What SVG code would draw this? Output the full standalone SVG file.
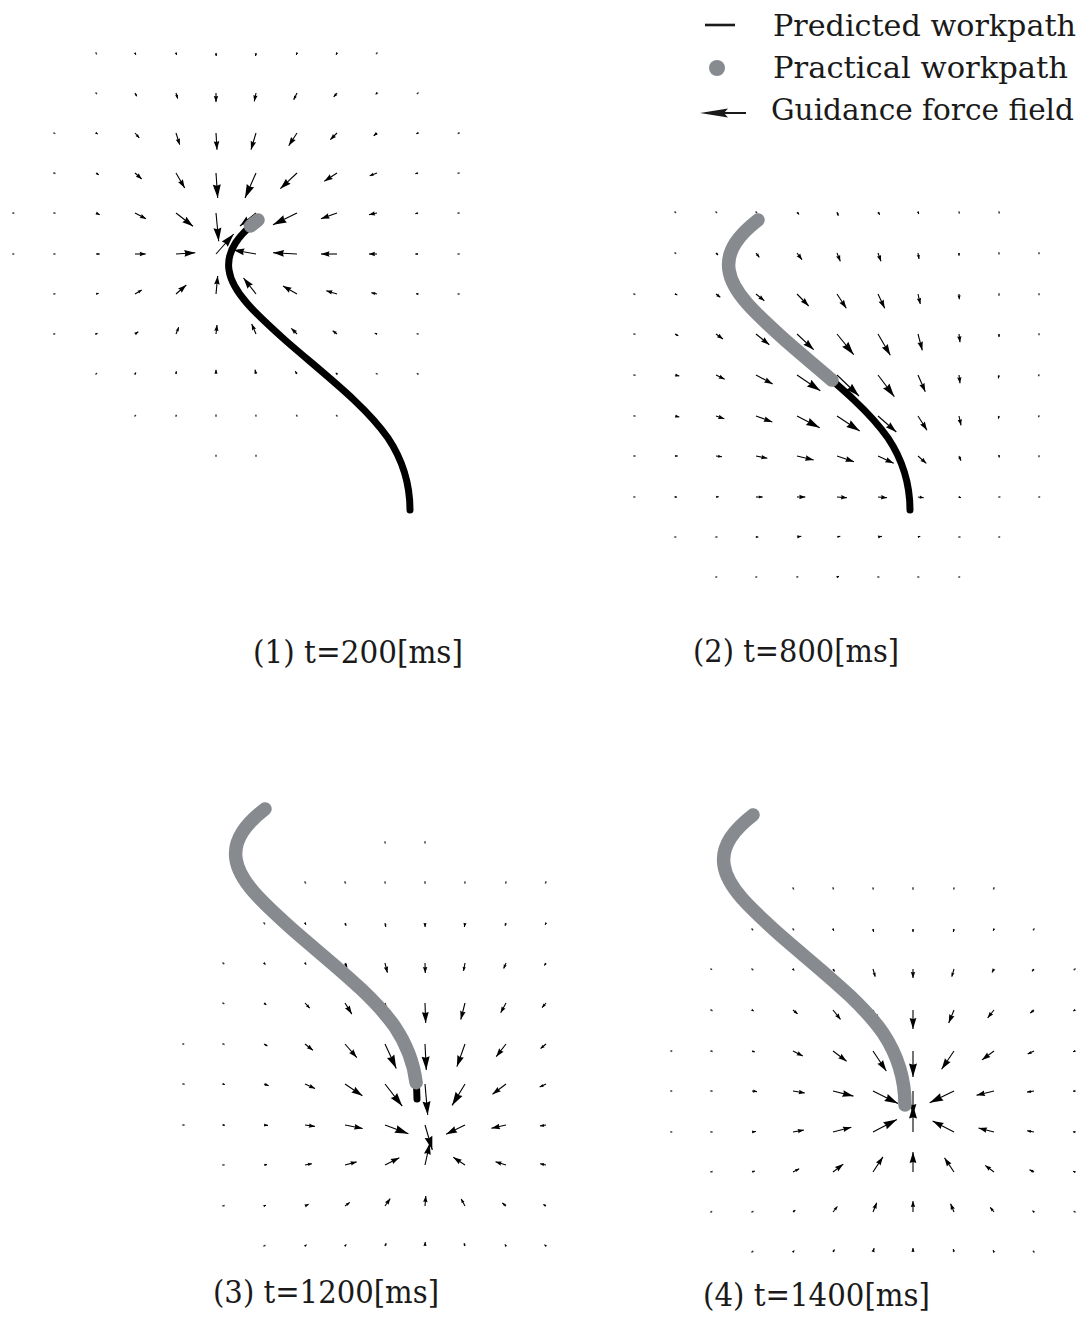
<svg xmlns="http://www.w3.org/2000/svg" xmlns:xlink="http://www.w3.org/1999/xlink" width="1088" height="1319" viewBox="0 0 1088 1319">
<defs>
<style>
.q path{fill:none;stroke:#000;stroke-width:1.1}
.q .a0 path{stroke-width:1.4;stroke:#333;stroke-linecap:square}
.a1{marker-end:url(#h1)}
.a2{marker-end:url(#h2)}
.a3{marker-end:url(#h3)}
.a4{marker-end:url(#h4)}
.a5{marker-end:url(#h5)}
.a6{marker-end:url(#h6)}
.blk{fill:none;stroke:#000;stroke-width:7;stroke-linecap:round;stroke-linejoin:round}
.gry{fill:none;stroke:#878b8f;stroke-width:13.5;stroke-linecap:round;stroke-linejoin:round}
text{font-family:"DejaVu Serif","Liberation Serif",serif;font-size:32px;fill:#1a1a1a}
.lg{font-size:29px}
</style>
<marker id="h1" markerUnits="userSpaceOnUse" orient="auto" overflow="visible" markerWidth="1" markerHeight="1"><path d="M0,0L-2.4,-1.1L-2.4,1.1Z" fill="#000"/></marker>
<marker id="h2" markerUnits="userSpaceOnUse" orient="auto" overflow="visible" markerWidth="1" markerHeight="1"><path d="M0,0L-4,-1.6L-3.6,0L-4,1.6Z" fill="#000"/></marker>
<marker id="h3" markerUnits="userSpaceOnUse" orient="auto" overflow="visible" markerWidth="1" markerHeight="1"><path d="M0,0L-6,-2.2L-5.4,0L-6,2.2Z" fill="#000"/></marker>
<marker id="h4" markerUnits="userSpaceOnUse" orient="auto" overflow="visible" markerWidth="1" markerHeight="1"><path d="M0,0L-8.5,-2.8L-7.6,0L-8.5,2.8Z" fill="#000"/></marker>
<marker id="h5" markerUnits="userSpaceOnUse" orient="auto" overflow="visible" markerWidth="1" markerHeight="1"><path d="M0,0L-11,-3.4L-9.9,0L-11,3.4Z" fill="#000"/></marker>
<marker id="h6" markerUnits="userSpaceOnUse" orient="auto" overflow="visible" markerWidth="1" markerHeight="1"><path d="M0,0L-13.5,-4L-12.2,0L-13.5,4Z" fill="#000"/></marker>
<path id="wp" d="M258,220C240,234 226,250 229,270C232,292 255,313 285,340C325,375 365,405 388,438C404,462 410,485 410,510"/>
<path id="gp2" d="M258,220C240,234 226,250 229,270C232,292 255,313 285,340C301,354 317,367.2 331.9,380.1"/>
<path id="gp3" d="M258,220C240,234 226,250 229,270C232,292 255,313 285,340C325,375 365,405 388,438C400.5,456.7 406.9,475.5 409.1,493.7"/>
</defs>
<rect width="1088" height="1319" fill="#fff"/>

<g id="legend">
<line x1="705" y1="25" x2="735" y2="25" stroke="#1a1a1a" stroke-width="2.6"/>
<circle cx="717" cy="68" r="8" fill="#878b8f"/>
<line x1="722" y1="113" x2="746" y2="113" stroke="#1a1a1a" stroke-width="2"/>
<path d="M700,113L728,108.6L724,113L728,117.4Z" fill="#1a1a1a"/>
<text class="lg" x="773" y="36" textLength="303" lengthAdjust="spacingAndGlyphs">Predicted workpath</text>
<text class="lg" x="773" y="78" textLength="295" lengthAdjust="spacingAndGlyphs">Practical workpath</text>
<text class="lg" x="771" y="120" textLength="303" lengthAdjust="spacingAndGlyphs">Guidance force field</text>
</g>

<g id="panel1">
<g class="q">
<g class="a0"><path d="M96,53l.4,.7"/><path d="M377,53l-.5,.6"/><path d="M96,93l.5,.6"/><path d="M418,93l-.6,.5"/><path d="M54,133l.7,.4"/><path d="M459,133l-.7,.3"/><path d="M54,173l.8,.3"/><path d="M459,173l-.8,.2"/><path d="M13,213l.6,.1"/><path d="M54,213l.8,.1"/><path d="M459,213l-.8,.1"/><path d="M13,254l.6,0"/><path d="M54,254l.8,0"/><path d="M459,254l-.8,0"/><path d="M54,294l.7,-.1"/><path d="M459,294l-.7,-.1"/><path d="M54,334l.6,-.2"/><path d="M418,334l-.7,-.2"/><path d="M96,374l.5,-.4"/><path d="M377,374l-.6,-.4"/><path d="M418,374l-.6,-.3"/><path d="M135,416l.4,-.4"/><path d="M176,416l.2,-.6"/><path d="M216,416l0,-.7"/><path d="M256,416l-.1,-.7"/><path d="M297,416l-.3,-.6"/><path d="M337,416l-.4,-.4"/><path d="M216,456l0,-.6"/><path d="M256,456l0,-.6"/></g>
<g class="a1"><path d="M135,53l.9,1.8"/><path d="M176,53l.6,1.9"/><path d="M216,53l.2,3"/><path d="M256,53l-.4,3"/><path d="M297,53l-.7,1.9"/><path d="M337,53l-1,1.7"/><path d="M135,93l1.7,3.3"/><path d="M377,93l-1.3,1.3"/><path d="M96,133l1.7,1"/><path d="M418,133l-1.7,.8"/><path d="M96,173l2.7,1.7"/><path d="M418,173l-2.7,.7"/><path d="M418,213l-2.7,.7"/><path d="M96,254l3.7,0"/><path d="M418,254l-2.7,0"/><path d="M96,294l2.7,-.7"/><path d="M418,294l-2,-.3"/><path d="M96,334l1.5,-.7"/><path d="M377,334l-2.3,-.7"/><path d="M135,374l1,-1.5"/><path d="M176,374l.3,-2.7"/><path d="M297,374l-1.7,-2.7"/><path d="M337,374l-1.2,-1.2"/></g>
<g class="a2"><path d="M176,93l1.7,5.7"/><path d="M297,93l-3.3,6.7"/><path d="M337,93l-3.3,4"/><path d="M135,133l4.3,5"/><path d="M377,133l-3.3,2.7"/><path d="M377,173l-7.3,2.7"/><path d="M96,213l3.7,1.7"/><path d="M135,294l6.7,-4"/><path d="M377,294l-5.7,-1.3"/><path d="M135,334l3.3,-2.3"/><path d="M176,334l2.7,-6.7"/><path d="M337,334l-4.3,-3.3"/><path d="M216,374l0,-4.3"/><path d="M256,374l-1,-4.3"/></g>
<g class="a3"><path d="M216,93l0,9"/><path d="M256,93l-1.7,8.3"/><path d="M176,133l3.7,11.7"/><path d="M337,133l-6.7,6.7"/><path d="M135,173l6.7,6"/><path d="M135,213l11,5.7"/><path d="M377,213l-8,1.7"/><path d="M135,254l10.7,0"/><path d="M377,254l-8,0"/><path d="M337,294l-10.7,-3.3"/><path d="M216,334l1,-9"/><path d="M256,334l-4.3,-10"/><path d="M297,334l-5.7,-5.7"/></g>
<g class="a4"><path d="M216,133l1,16.7"/><path d="M256,133l-5,16.7"/><path d="M297,133l-8.3,12.7"/><path d="M176,173l8.7,15"/><path d="M337,173l-12.7,8.3"/><path d="M337,213l-16,5.7"/><path d="M337,254l-16,0"/><path d="M176,294l10.3,-9"/><path d="M216,294l1.7,-18"/><path d="M297,294l-14,-8"/></g>
<g class="a5"><path d="M297,173l-16.7,15.7"/><path d="M176,213l17,13.3"/><path d="M256,213l-16,13"/><path d="M176,254l19.3,-1.3"/><path d="M256,254l-22.7,-4"/><path d="M297,254l-24,-1.3"/><path d="M256,294l-12.5,-16"/></g>
<g class="a6"><path d="M216,173l1.7,25"/><path d="M256,173l-11,25"/><path d="M216,213l2.7,28.3"/><path d="M297,213l-24,11.7"/><path d="M216,254l17.7,-20"/></g>
</g>
<use xlink:href="#wp" href="#wp" class="blk"/>
<path d="M258,220L250.5,226" class="gry"/>
<text x="253" y="663" textLength="210" lengthAdjust="spacingAndGlyphs">(1) t=200[ms]</text>
</g>

<g id="panel2">
<g class="q">
<g class="a0"><path d="M675,212l.5,.5"/><path d="M716,212l.5,.5"/><path d="M756,212l.6,.6"/><path d="M959,212l.3,1"/><path d="M999,212l.2,.8"/><path d="M675,253l.6,.3"/><path d="M999,253l0,.8"/><path d="M1039,253l0,.6"/><path d="M634,294l.7,.3"/><path d="M999,294l0,1"/><path d="M1039,294l0,.5"/><path d="M634,334l.8,.2"/><path d="M1039,334l0,.6"/><path d="M634,375l.9,.2"/><path d="M1039,375l-.3,.7"/><path d="M634,416l.9,.1"/><path d="M1039,416l-.3,.7"/><path d="M634,456l.9,0"/><path d="M1039,456l0,.6"/><path d="M634,497l.7,0"/><path d="M999,497l.7,0"/><path d="M1039,497l.5,0"/><path d="M675,537l.6,0"/><path d="M716,537l.8,0"/><path d="M959,537l.8,0"/><path d="M999,537l.5,0"/><path d="M716,577l.5,0"/><path d="M756,577l.5,0"/><path d="M797,577l.6,-.1"/><path d="M878,577l.7,0"/><path d="M918,577l.6,0"/><path d="M959,577l.5,0"/></g>
<g class="a1"><path d="M797,212l2,2.5"/><path d="M837,212l1.3,3.7"/><path d="M878,212l1.7,2.7"/><path d="M918,212l.7,2"/><path d="M716,253l2,2"/><path d="M959,253l0,2.7"/><path d="M675,294l2.3,1"/><path d="M675,334l3.3,1.7"/><path d="M999,334l0,3"/><path d="M999,375l-.7,3.3"/><path d="M999,416l-.7,2.7"/><path d="M675,456l2.7,0"/><path d="M999,456l.3,1.5"/><path d="M675,497l2,0"/><path d="M716,497l2.7,-.3"/><path d="M959,497l2,.7"/><path d="M756,537l2.3,0"/><path d="M837,537l3.3,-.7"/><path d="M918,537l2.3,-.7"/><path d="M837,577l2,-.6"/></g>
<g class="a2"><path d="M756,253l3.3,4.3"/><path d="M918,253l1,6"/><path d="M716,294l4.3,3.3"/><path d="M959,294l.3,5.3"/><path d="M675,375l4.3,1"/><path d="M675,416l4.3,1"/><path d="M716,456l6,.7"/><path d="M959,456l2,4.7"/><path d="M756,497l6.7,0"/><path d="M918,497l5.7,.7"/><path d="M797,537l4.3,-.7"/><path d="M878,537l4,-.7"/></g>
<g class="a3"><path d="M797,253l5,6.7"/><path d="M837,253l3.3,8.3"/><path d="M878,253l3,8.3"/><path d="M756,294l8.3,6.7"/><path d="M918,294l2.3,10"/><path d="M716,334l7,5"/><path d="M959,334l1,8.3"/><path d="M716,375l8.7,4.3"/><path d="M959,375l1,8.3"/><path d="M716,416l8.3,2.7"/><path d="M959,416l2,9.3"/><path d="M756,456l11.3,2.3"/><path d="M918,456l8.3,7.3"/><path d="M797,497l8.3,0"/><path d="M837,497l10,.7"/><path d="M878,497l9,.7"/></g>
<g class="a4"><path d="M797,294l11.7,12"/><path d="M837,294l9.3,14.3"/><path d="M878,294l6.7,14.3"/><path d="M756,334l13.3,10.7"/><path d="M918,334l4.3,16.3"/><path d="M756,375l16.7,9"/><path d="M918,375l7.3,16.7"/><path d="M756,416l16.3,6"/><path d="M918,416l9,14.3"/><path d="M797,456l16.7,4"/><path d="M837,456l17,5.7"/><path d="M878,456l15.7,7.3"/></g>
<g class="a5"><path d="M797,334l16.7,15.7"/><path d="M878,334l12.3,21.3"/><path d="M878,416l18.3,16"/></g>
<g class="a6"><path d="M837,334l16.7,20.7"/><path d="M797,375l23.3,15.7"/><path d="M837,375l22,21"/><path d="M878,375l16.3,21.7"/><path d="M797,416l22.7,11.7"/><path d="M837,416l22.7,15"/></g>
</g>
<use xlink:href="#wp" href="#wp" class="blk" transform="translate(500,0)"/>
<use xlink:href="#gp2" href="#gp2" class="gry" transform="translate(500,0)"/>
<text x="693" y="662" textLength="206" lengthAdjust="spacingAndGlyphs">(2) t=800[ms]</text>
</g>

<g id="panel3">
<g class="q">
<g class="a0"><path d="M385,842l.12,.8"/><path d="M425,842l0,.8"/><path d="M305,882l.43,.9"/><path d="M345,882l.31,.95"/><path d="M385,882l.17,.99"/><path d="M425,882l0,1"/><path d="M465,882l-.13,.99"/><path d="M506,882l-.28,.96"/><path d="M546,882l-.41,.91"/><path d="M264,923l.6,.8"/><path d="M223,963l.76,.65"/><path d="M223,1003l.8,.6"/><path d="M183,1044l.6,.2"/><path d="M223,1044l.9,.4"/><path d="M183,1084l1,.2"/><path d="M183,1125l1,.1"/><path d="M223,1165l1,-.1"/><path d="M223,1206l1,-.3"/><path d="M264,1246l.85,-.53"/></g>
<g class="a1"><path d="M305,923l1,1.7"/><path d="M345,923l1.1,2.8"/><path d="M385,923l.8,3.9"/><path d="M506,923l-1,2.8"/><path d="M546,923l-.9,1.8"/><path d="M264,963l1.4,1.5"/><path d="M305,963l1.2,1.6"/><path d="M546,963l-1.6,2.5"/><path d="M264,1003l2.3,1.9"/><path d="M264,1044l3.4,2"/><path d="M223,1084l1.9,.5"/><path d="M223,1125l2,.2"/><path d="M264,1165l3,-.4"/><path d="M264,1206l1.9,-.7"/><path d="M546,1206l-2.6,-1.5"/><path d="M305,1246l1.5,-1.3"/><path d="M345,1246l1.3,-1.6"/><path d="M385,1246l1.2,-2.8"/><path d="M465,1246l-1,-2.8"/><path d="M506,1246l-1.2,-1.6"/><path d="M546,1246l-1.5,-1.3"/></g>
<g class="a2"><path d="M425,923l.1,4"/><path d="M465,923l-.6,4"/><path d="M345,963l2.1,4.5"/><path d="M465,963l-1.5,7.9"/><path d="M506,963l-2.3,5.5"/><path d="M305,1003l4.7,5.2"/><path d="M546,1003l-3.9,4.6"/><path d="M546,1044l-5.4,4.5"/><path d="M264,1084l4.7,1.7"/><path d="M546,1084l-6.3,3.1"/><path d="M264,1125l4,.4"/><path d="M546,1125l-5.9,.9"/><path d="M305,1165l6.9,-1.3"/><path d="M546,1165l-5.9,-1.2"/><path d="M305,1206l3.6,-1.8"/><path d="M345,1206l4.8,-3.6"/><path d="M465,1206l-3.8,-7"/><path d="M506,1206l-3.8,-3.2"/><path d="M425,1246l.2,-4"/></g>
<g class="a3"><path d="M385,963l2.4,9.7"/><path d="M425,963l.3,10"/><path d="M506,1003l-5.3,9.7"/><path d="M305,1044l7.9,6.2"/><path d="M305,1084l10,4.6"/><path d="M305,1125l9.9,1.4"/><path d="M345,1165l11.6,-3.1"/><path d="M506,1165l-10.5,-3.2"/><path d="M385,1206l5.2,-7.4"/><path d="M425,1206l.8,-10"/></g>
<g class="a4"><path d="M345,1003l6.8,11.1"/><path d="M465,1003l-4.2,16.5"/><path d="M345,1044l11.8,13.6"/><path d="M506,1044l-9.8,12.7"/><path d="M506,1084l-13.5,10.3"/><path d="M345,1125l17.7,3.5"/><path d="M506,1125l-14.6,3.3"/><path d="M385,1165l14.3,-7.3"/><path d="M465,1165l-11.7,-7.7"/></g>
<g class="a5"><path d="M385,1003l6.2,19"/><path d="M425,1003l.7,20"/><path d="M465,1044l-8.1,22.6"/><path d="M345,1084l17.4,11.8"/><path d="M465,1125l-18.9,9.2"/><path d="M425,1165l4.7,-21.5"/></g>
<g class="a6"><path d="M385,1044l11.3,24.5"/><path d="M425,1044l1.3,26"/><path d="M385,1084l17.2,22.1"/><path d="M425,1084l2.7,30.9"/><path d="M465,1084l-12.9,21.4"/><path d="M385,1125l23.4,8.8"/><path d="M425,1125l7.3,24.9"/></g>
</g>
<use xlink:href="#wp" href="#wp" class="blk" transform="translate(7,589)"/>
<use xlink:href="#gp3" href="#gp3" class="gry" transform="translate(7,589)"/>
<text x="213" y="1303" textLength="226" lengthAdjust="spacingAndGlyphs">(3) t=1200[ms]</text>
</g>

<g id="panel4">
<g class="q">
<g class="a0"><path d="M793,888l.47,.88"/><path d="M833,888l.34,.94"/><path d="M873,888l.18,.98"/><path d="M913,888l0,1"/><path d="M954,888l-.18,.98"/><path d="M994,888l-.34,.94"/><path d="M752,929l.66,.75"/><path d="M793,929l.55,.83"/><path d="M1034,929l-.55,.83"/><path d="M711,969l.49,.35"/><path d="M752,969l.75,.66"/><path d="M1075,969l-.75,.66"/><path d="M711,1010l.9,.45"/><path d="M671,1051l.58,.14"/><path d="M711,1051l.96,.28"/><path d="M671,1091l.6,.05"/><path d="M711,1091l1,.1"/><path d="M671,1132l.6,-.05"/><path d="M711,1132l1,-.1"/><path d="M711,1172l.96,-.29"/><path d="M711,1212l.54,-.27"/><path d="M752,1212l.85,-.53"/><path d="M1075,1212l-.85,-.53"/><path d="M752,1252l.75,-.66"/><path d="M1034,1252l-.65,-.76"/></g>
<g class="a1"><path d="M833,929l.8,1.8"/><path d="M873,929l.6,2.9"/><path d="M913,929l0,3"/><path d="M954,929l-.7,2.9"/><path d="M994,929l-.8,1.8"/><path d="M793,969l1.3,1.5"/><path d="M833,969l1.5,2.6"/><path d="M1034,969l-2,2.3"/><path d="M752,1010l1.7,1.1"/><path d="M1075,1010l-1.7,1.1"/><path d="M752,1051l2.8,1.1"/><path d="M1075,1051l-1.9,.7"/><path d="M1075,1091l-2,.25"/><path d="M1075,1132l-2,-.26"/><path d="M752,1172l2.8,-1.1"/><path d="M1075,1172l-1.9,-.7"/><path d="M793,1212l2.3,-1.9"/><path d="M1034,1212l-1.5,-1.3"/><path d="M793,1252l1.3,-1.5"/><path d="M833,1252l1.5,-2.6"/><path d="M954,1252l-.8,-2.9"/><path d="M994,1252l-1,-1.7"/></g>
<g class="a2"><path d="M873,969l2.2,7.7"/><path d="M954,969l-2.2,7.7"/><path d="M994,969l-2,3.5"/><path d="M793,1010l4.6,3.9"/><path d="M1034,1010l-3.8,3.2"/><path d="M1034,1051l-6.3,3.1"/><path d="M752,1091l5,.6"/><path d="M1034,1091l-6.9,1.1"/><path d="M752,1132l4,-.5"/><path d="M1034,1132l-6.9,-1.2"/><path d="M793,1172l6.2,-3.2"/><path d="M1034,1172l-4.5,-2.3"/><path d="M833,1212l4.4,-5.5"/><path d="M994,1212l-3.8,-4.7"/><path d="M873,1252l1.1,-3.9"/><path d="M913,1252l0,-4"/></g>
<g class="a3"><path d="M913,969l0,9"/><path d="M833,1010l7.5,9.4"/><path d="M994,1010l-6.3,7.8"/><path d="M793,1051l9.8,4.9"/><path d="M793,1091l11.8,2"/><path d="M793,1132l10.8,-1.9"/><path d="M994,1172l-8.8,-6.6"/><path d="M873,1212l3.7,-9.3"/><path d="M913,1212l0,-11"/><path d="M954,1212l-3.4,-8.3"/></g>
<g class="a4"><path d="M873,1010l5.2,13"/><path d="M954,1010l-5.3,13"/><path d="M833,1051l13.6,10.2"/><path d="M994,1051l-12,8.9"/><path d="M994,1091l-17.5,4.3"/><path d="M833,1132l18.4,-4.8"/><path d="M994,1132l-15.5,-4"/><path d="M833,1172l10.3,-7.9"/><path d="M873,1172l9.9,-15.1"/><path d="M954,1172l-9.5,-14.1"/></g>
<g class="a5"><path d="M913,1010l0,19"/><path d="M873,1051l13.3,20"/><path d="M954,1051l-12.4,18.2"/><path d="M833,1091l20.4,5.1"/><path d="M913,1091l0,24"/><path d="M954,1132l-21.4,-10.9"/><path d="M913,1172l0,-20"/></g>
<g class="a6"><path d="M913,1051l0,26"/><path d="M873,1091l25,12.5"/><path d="M954,1091l-24.3,11.8"/><path d="M873,1132l23.9,-12.5"/><path d="M913,1132l0,-27"/></g>
</g>
<use xlink:href="#wp" href="#wp" class="gry" transform="translate(495,595)"/>
<text x="703" y="1306" textLength="227" lengthAdjust="spacingAndGlyphs">(4) t=1400[ms]</text>
</g>
</svg>
